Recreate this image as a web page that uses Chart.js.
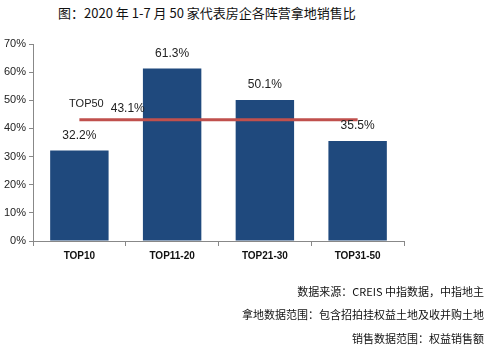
<!DOCTYPE html>
<html>
<head>
<meta charset="utf-8">
<script src="https://cdn.jsdelivr.net/npm/chart.js@4/dist/chart.umd.min.js"></script>
<style>
  html, body { margin: 0; padding: 0; background: #fff; }
  #wrap { position: relative; width: 493px; height: 347px; overflow: hidden; }
  #chart { position: absolute; left: 0; top: 0; }
  .title {
    position: absolute; left: 58px; top: 3px;
    font: 13px "Noto Sans CJK SC", "Liberation Sans", sans-serif; color: #111;
    white-space: nowrap;
  }
  .note {
    position: absolute; right: 9px;
    font: 11px "Noto Sans CJK SC", "Liberation Sans", sans-serif; color: #111;
    white-space: nowrap;
  }
</style>
</head>
<body>
<div id="wrap">
  <div class="title">图：2020 年 1-7 月 50 家代表房企各阵营拿地销售比</div>
  <canvas id="chart" width="493" height="347"></canvas>
  <div class="note" style="top:283px">数据来源：CREIS 中指数据，中指地主</div>
  <div class="note" style="top:306px">拿地数据范围：包含招拍挂权益土地及收并购土地</div>
  <div class="note" style="top:330px">销售数据范围：权益销售额</div>
</div>
<script>
const groups = ['TOP10', 'TOP11-20', 'TOP21-30', 'TOP31-50'];
const ratios = [32.2, 61.3, 50.1, 35.5];
const top50Ratio = 43.1;
const top50Label = 'TOP50';
const yTicks = [0, 10, 20, 30, 40, 50, 60, 70];

// value labels above the bars plus the TOP50 tag on the red line
const labelPlugin = {
  id: 'labels',
  afterDatasetsDraw(chart) {
    const ctx = chart.ctx;
    const x = chart.scales.x, y = chart.scales.y;
    ctx.save();
    ctx.fillStyle = '#222';
    ctx.textAlign = 'center';
    ctx.textBaseline = 'middle';
    ctx.font = '12px "Liberation Sans", Arial, sans-serif';
    chart.getDatasetMeta(1).data.forEach((bar, i) => {
      ctx.fillText(ratios[i].toFixed(1) + '%', bar.x, bar.y - 15);
    });
    const ly = y.getPixelForValue(top50Ratio);
    ctx.fillText(top50Ratio.toFixed(1) + '%', x.getPixelForValue(0.5) + 2, ly - 11);
    ctx.font = '11px "Liberation Sans", Arial, sans-serif';
    ctx.fillText(top50Label, x.getPixelForValue(0) + 7, ly - 16);
    ctx.restore();
  }
};

new Chart(document.getElementById('chart'), {
  data: {
    labels: groups,
    datasets: [
      {
        type: 'line',
        label: top50Label,
        data: groups.map(() => top50Ratio),
        borderColor: '#C0504D',
        borderWidth: 3,
        pointRadius: 0,
        order: 0
      },
      {
        type: 'bar',
        label: '拿地销售比',
        data: ratios,
        backgroundColor: '#1F497D',
        categoryPercentage: 0.63,
        barPercentage: 1,
        order: 1
      }
    ]
  },
  options: {
    responsive: false,
    animation: false,
    devicePixelRatio: 1,
    layout: { padding: { left: 0, right: 89, top: 44, bottom: 81 } },
    plugins: { legend: { display: false }, tooltip: { enabled: false }, title: { display: false } },
    scales: {
      x: {
        offset: true,
        grid: { offset: true, drawOnChartArea: false, drawTicks: true, tickLength: 5, color: '#888' },
        border: { color: '#888', width: 1 },
        ticks: { color: '#111', font: { size: 10, family: '"Liberation Sans", Arial, sans-serif', weight: 'bold' }, padding: 4 },
        afterFit(scale) { scale.height = 25; }
      },
      y: {
        min: 0,
        max: 70,
        afterBuildTicks(scale) { scale.ticks = yTicks.map(v => ({ value: v })); },
        grid: { drawOnChartArea: false, drawTicks: true, tickLength: 4, color: '#888' },
        border: { color: '#888', width: 1 },
        ticks: {
          color: '#222',
          padding: 3,
          font: { size: 11, family: '"Liberation Sans", Arial, sans-serif' },
          callback: v => v + '%'
        },
        afterFit(scale) { scale.width = 33; }
      }
    }
  },
  plugins: [labelPlugin]
});
</script>
</body>
</html>
